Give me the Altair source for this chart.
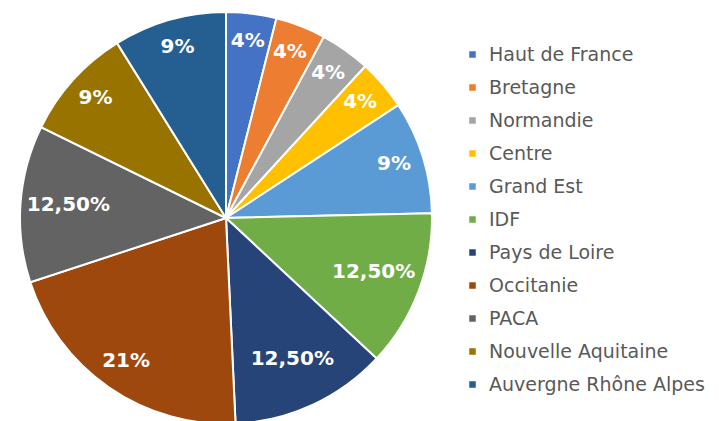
import altair as alt
import pandas as pd

regions = ["Haut de France", "Bretagne", "Normandie", "Centre", "Grand Est", "IDF",
           "Pays de Loire", "Occitanie", "PACA", "Nouvelle Aquitaine", "Auvergne Rhône Alpes"]
values = [4, 4, 4, 4, 9, 12.5, 12.5, 21, 12.5, 9, 9]
labels = ["4%", "4%", "4%", "4%", "9%", "12,50%", "12,50%", "21%", "12,50%", "9%", "9%"]
colors = ["#4472C4", "#ED7D31", "#A5A5A5", "#FFC000", "#5B9BD5", "#70AD47",
          "#264478", "#9E480E", "#636363", "#997300", "#255E91"]

df = pd.DataFrame({"region": regions, "value": values, "label": labels,
                   "idx": list(range(len(regions)))})

cx, cy = 218, 207

arcs = alt.Chart(df).mark_arc(outerRadius=206, stroke="white", strokeWidth=2).encode(
    theta=alt.Theta("value:Q", stack=True),
    order=alt.Order("idx:Q"),
    x=alt.value(cx), y=alt.value(cy),
    color=alt.Color("region:N", scale=alt.Scale(domain=regions, range=colors),
                    legend=alt.Legend(title=None, orient="none", legendX=455, legendY=34,
                                      symbolType="square", symbolSize=64,
                                      labelFontSize=19, labelFont="DejaVu Sans",
                                      labelColor="#595959", rowPadding=13,
                                      labelOffset=7, labelLimit=300)),
)

text = alt.Chart(df).transform_joinaggregate(
    total="sum(value)"
).transform_window(
    cum="sum(value)", sort=[alt.SortField("idx")], frame=[None, 0]
).transform_calculate(
    mid="2*PI*(datum.cum - datum.value/2)/datum.total",
    lr="length(datum.label) > 3 ? 158 : 176",
).mark_text(
    fontSize=20, fontWeight="bold", font="DejaVu Sans", color="white", dy=-2
).encode(
    x=alt.value(cx), y=alt.value(cy),
    theta=alt.Theta("mid:Q", scale=None, stack=False),
    radius=alt.Radius("lr:Q", scale=None),
    text="label:N",
)

chart = (arcs + text).properties(
    width=703, height=405, padding=0
).configure_view(stroke=None)

chart.save("out.html", embed_options={"renderer": "svg", "actions": False})
